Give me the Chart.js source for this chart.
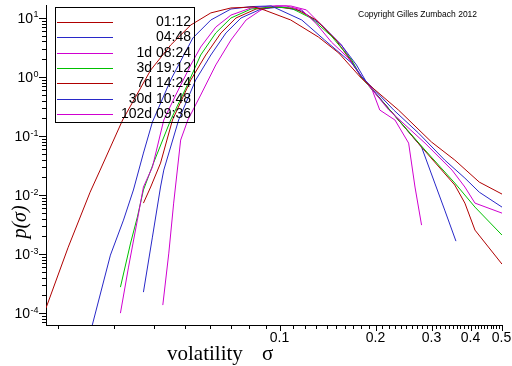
<!DOCTYPE html>
<html>
<head>
<meta charset="utf-8">
<script src="https://cdn.jsdelivr.net/npm/chart.js@4.4.1/dist/chart.umd.min.js"></script>
<style>
  html, body { margin: 0; padding: 0; background: #fff; }
</style>
</head>
<body>
<canvas id="chart" width="512" height="366"></canvas>
<script>
// legend labels and colours (one per time horizon)
const seriesLabels = ["01:12", "04:48", "1d 08:24", "3d 19:12", "7d 14:24", "30d 10:48", "102d 09:36"];
const seriesColors = ["#b00000", "#2828c8", "#d000d0", "#00c000", "#b00000", "#2828c8", "#d000d0"];

// [volatility, p(sigma)]
const s0112 = [[0.0183,0.000122],[0.0215,0.00131],[0.0252,0.0112],[0.0271,0.0265],[0.0319,0.187],[0.0391,1.31],[0.0452,3.48],[0.0523,7.60],[0.0605,12.2],[0.0700,14.8],[0.0828,15.4],[0.0890,13.7],[0.108,9.25],[0.132,4.76],[0.153,2.55],[0.180,0.962],[0.236,0.276],[0.300,0.0791],[0.355,0.0392],[0.424,0.0166],[0.500,0.0104]];
const s0448 = [[0.0256,0.0000627],[0.0292,0.000962],[0.0321,0.00377],[0.0345,0.0122],[0.0371,0.0515],[0.0396,0.173],[0.0452,0.889],[0.0531,4.58],[0.0605,9.25],[0.0700,14.2],[0.0810,15.6],[0.0937,16.0],[0.117,9.25],[0.138,4.24],[0.168,1.73],[0.180,1.04],[0.228,0.276],[0.273,0.112],[0.330,0.0392],[0.382,0.0194],[0.424,0.0112],[0.500,0.00626]];
const s1d0824 = [[0.0314,0.0001],[0.0333,0.000603],[0.0355,0.00377],[0.0371,0.0137],[0.0396,0.0298],[0.0430,0.187],[0.0469,0.495],[0.0523,1.60],[0.0562,3.22],[0.0627,7.03],[0.0700,11.2],[0.0810,14.8],[0.0937,16.0],[0.1045,16.0],[0.117,13.7],[0.130,8.0],[0.145,3.92],[0.164,2.10],[0.180,1.04],[0.220,0.276],[0.286,0.0760],[0.348,0.0265],[0.382,0.0137],[0.411,0.00731],[0.500,0.00495]];
const s3d1912 = [[0.0314,0.000276],[0.0338,0.00154],[0.0355,0.00424],[0.0371,0.0122],[0.0399,0.0348],[0.0452,0.187],[0.0505,0.652],[0.0562,2.36],[0.0627,5.57],[0.0700,10.0],[0.0810,14.2],[0.0937,15.4],[0.108,14.8],[0.125,10.0],[0.145,4.95],[0.168,1.94],[0.180,1.0],[0.2245,0.255],[0.286,0.0580],[0.355,0.0160],[0.411,0.00626],[0.500,0.00210]];
const s7d1424 = [[0.0371,0.00731],[0.0391,0.0137],[0.0420,0.0348],[0.0458,0.187],[0.0523,0.889],[0.0583,2.36],[0.0651,5.57],[0.0726,10.0],[0.0840,14.2],[0.0971,15.4],[0.112,14.2],[0.130,9.25],[0.150,4.24],[0.168,1.79],[0.180,1.0],[0.2245,0.255],[0.279,0.0651],[0.355,0.0148],[0.382,0.00731],[0.411,0.00255],[0.500,0.000677]];
const s30d1048 = [[0.0371,0.000227],[0.0396,0.00194],[0.0420,0.0137],[0.0430,0.0265],[0.0479,0.187],[0.0542,0.889],[0.0605,2.36],[0.0675,5.57],[0.0753,10.0],[0.0871,14.2],[0.1007,15.4],[0.117,13.1],[0.135,7.60],[0.156,3.48],[0.174,1.60],[0.187,0.822],[0.2245,0.255],[0.279,0.0651],[0.307,0.0160],[0.330,0.00557],[0.358,0.00166]];
const s102d0936 = [[0.0427,0.000137],[0.0446,0.00104],[0.0462,0.00731],[0.0486,0.0855],[0.0512,0.187],[0.0562,0.495],[0.0627,1.60],[0.0700,4.24],[0.0781,9.25],[0.0871,13.7],[0.0971,16.0],[0.108,16.0],[0.121,13.7],[0.135,7.60],[0.156,3.48],[0.180,1.04],[0.194,0.652],[0.206,0.276],[0.230,0.187],[0.254,0.0760],[0.266,0.0137],[0.279,0.00310]];
const allSeries = [s0112, s0448, s1d0824, s3d1912, s7d1424, s30d1048, s102d0936];

// axes
const xRange = [0.0183, 0.5];
const yRange = [6.3e-5, 16.6];
const xTickLabels = [0.1, 0.2, 0.3, 0.4, 0.5];
const xMinorTicks = [0.02,0.03,0.04,0.05,0.06,0.07,0.08,0.09,
  0.11,0.12,0.13,0.14,0.15,0.16,0.17,0.18,0.19,
  0.21,0.22,0.23,0.24,0.25,0.26,0.27,0.28,0.29,
  0.31,0.32,0.33,0.34,0.35,0.36,0.37,0.38,0.39,
  0.41,0.42,0.43,0.44,0.45,0.46,0.47,0.48,0.49];
const yDecades = [-4, -3, -2, -1, 0, 1];

const SANS = '"Liberation Sans", Arial, sans-serif';
const SERIF = '"Liberation Serif", "Times New Roman", serif';

const decor = {
  id: "decor",
  afterDraw(chart) {
    const { ctx, chartArea: a, scales: { x, y } } = chart;
    ctx.save();
    ctx.strokeStyle = "#000";
    ctx.fillStyle = "#000";
    ctx.lineWidth = 1;

    // y ticks: minor 2..9, major at decades
    for (let k = -5; k <= 1; k++) {
      for (let m = 1; m <= 9; m++) {
        const v = m * Math.pow(10, k);
        if (v < yRange[0] || v > yRange[1]) continue;
        const py = Math.round(y.getPixelForValue(v)) + 0.5;
        ctx.beginPath();
        ctx.moveTo(a.left - (m === 1 ? 7 : 4), py);
        ctx.lineTo(a.left, py);
        ctx.stroke();
      }
    }
    yDecades.forEach(k => {
      const py = y.getPixelForValue(Math.pow(10, k));
      ctx.font = "14px " + SANS;
      const wb = ctx.measureText("10").width;
      ctx.font = "9px " + SANS;
      const we = ctx.measureText(String(k)).width;
      const x0 = a.left - 7 - 1 - wb - we;
      ctx.textBaseline = "middle";
      ctx.textAlign = "left";
      ctx.font = "14px " + SANS;
      ctx.fillText("10", x0, py + 1);
      ctx.font = "9px " + SANS;
      ctx.fillText(String(k), x0 + wb + 0.5, py - 3);
    });

    // x ticks
    xMinorTicks.forEach(v => {
      const px = Math.round(x.getPixelForValue(v)) + 0.5;
      ctx.beginPath();
      ctx.moveTo(px, a.bottom);
      ctx.lineTo(px, a.bottom + 4);
      ctx.stroke();
    });
    ctx.font = "14px " + SANS;
    ctx.textAlign = "center";
    ctx.textBaseline = "middle";
    xTickLabels.forEach(v => {
      const px = Math.round(x.getPixelForValue(v)) + 0.5;
      ctx.beginPath();
      ctx.moveTo(px, a.bottom);
      ctx.lineTo(px, a.bottom + 6);
      ctx.stroke();
      ctx.fillText(String(v), px - 1, a.bottom + 13);
    });

    // axis titles
    ctx.font = "21px " + SERIF;
    ctx.textAlign = "left";
    ctx.textBaseline = "alphabetic";
    ctx.fillText("volatility", 167, 360);
    ctx.fillText("\u03c3", 262, 360);
    ctx.save();
    ctx.translate(26, 222);
    ctx.rotate(-Math.PI / 2);
    ctx.textAlign = "center";
    ctx.font = "italic 20px " + SERIF;
    ctx.fillText("p(\u03c3)", 0, 0);
    ctx.restore();

    // legend box inside the plot
    ctx.strokeRect(55.5, 7.5, 139, 115);
    ctx.font = "14px " + SANS;
    ctx.textAlign = "right";
    ctx.textBaseline = "middle";
    chart.data.datasets.forEach((ds, i) => {
      const ly = Math.round(22 + i * 15.3) + 0.5;
      ctx.strokeStyle = ds.borderColor;
      ctx.beginPath();
      ctx.moveTo(57, ly);
      ctx.lineTo(113, ly);
      ctx.stroke();
      ctx.fillText(ds.label, 191, ly);
    });

    // copyright note
    ctx.font = "8.5px " + SANS;
    ctx.textAlign = "left";
    ctx.fillText("Copyright Gilles Zumbach 2012", 358, 15);
    ctx.restore();
  }
};

new Chart(document.getElementById("chart"), {
  type: "line",
  data: {
    datasets: allSeries.map((pts, i) => ({
      label: seriesLabels[i],
      data: pts.map(p => ({ x: p[0], y: p[1] })),
      borderColor: seriesColors[i],
      borderWidth: 1,
      pointRadius: 0,
      tension: 0,
      fill: false
    }))
  },
  options: {
    responsive: false,
    animation: false,
    devicePixelRatio: 1,
    layout: { padding: { left: 0, right: 10, top: 5, bottom: 0 } },
    plugins: { legend: { display: false }, tooltip: { enabled: false } },
    scales: {
      x: {
        type: "logarithmic",
        min: xRange[0], max: xRange[1],
        grid: { display: false },
        border: { display: true, color: "#000", width: 1 },
        ticks: { display: false },
        afterFit(scale) { scale.height = 41; }
      },
      y: {
        type: "logarithmic",
        min: yRange[0], max: yRange[1],
        grid: { display: false },
        border: { display: true, color: "#000", width: 1 },
        ticks: { display: false },
        afterFit(scale) { scale.width = 46; }
      }
    }
  },
  plugins: [decor]
});
</script>
</body>
</html>
